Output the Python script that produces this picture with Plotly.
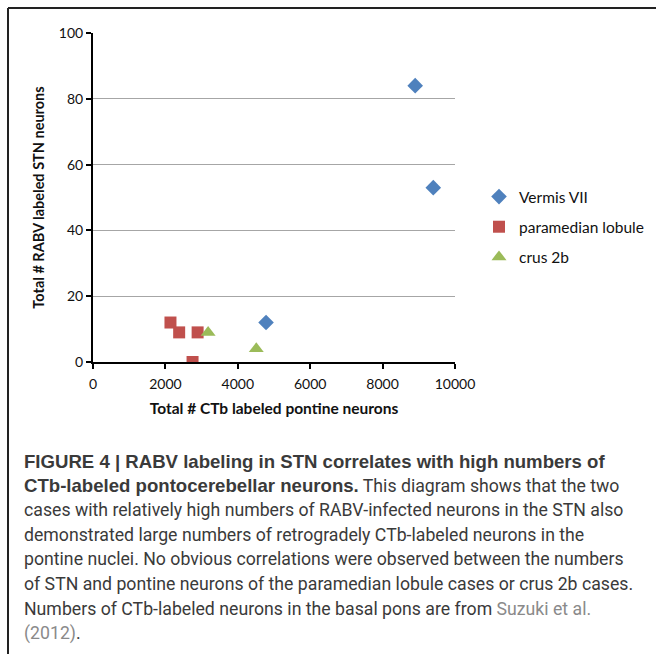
import plotly.graph_objects as go

# ---- data ----
series_names = ["Vermis VII", "paramedian lobule", "crus 2b"]
vermis_x = [8900, 9400, 4780]
vermis_y = [84, 53, 12]
paramedian_x = [2140, 2380, 2890, 2750]
paramedian_y = [12, 9, 9, 0]
crus_x = [3180, 4510]
crus_y = [9, 4]

x_ticks = [0, 2000, 4000, 6000, 8000, 10000]
x_tick_labels = ["0", "2000", "4000", "6000", "8000", "10000"]
y_ticks = [0, 20, 40, 60, 80, 100]

x_title = "Total # CTb labeled pontine neurons"
y_title = "Total # RABV labeled STN neurons"

BOLD = "<span style='font-family:Liberation Sans, Arial, sans-serif;font-size:18.6px'><b>{}</b></span>"
GREY = "<span style='color:#8a8a8a'>{}</span>"
caption_lines = [
    BOLD.format("FIGURE 4 | RABV labeling in STN correlates with high numbers of"),
    BOLD.format("CTb-labeled pontocerebellar neurons.") + " This diagram shows that the two",
    "cases with relatively high numbers of RABV-infected neurons in the STN also",
    "demonstrated large numbers of retrogradely CTb-labeled neurons in the",
    "pontine nuclei. No obvious correlations were observed between the numbers",
    "of STN and pontine neurons of the paramedian lobule cases or crus 2b cases.",
    "Numbers of CTb-labeled neurons in the basal pons are from " + GREY.format("Suzuki et al."),
    GREY.format("(2012)") + ".",
]

W, H = 656, 654
L, R, T, B = 93, 201, 33, 292
pw, ph = W - L - R, H - T - B

def px_x(px):
    return (px - L) / pw

def px_y(py):
    return (H - B - py) / ph

fig = go.Figure()
fig.add_trace(go.Scatter(x=vermis_x, y=vermis_y, mode="markers", name=series_names[0],
                         legendgroup="a",
                         marker=dict(symbol="diamond", size=12, color="#4F81BD")))
fig.add_trace(go.Scatter(x=paramedian_x, y=paramedian_y, mode="markers", name=series_names[1],
                         legendgroup="b",
                         marker=dict(symbol="square", size=12, color="#C0504D")))
fig.add_trace(go.Scatter(x=crus_x, y=crus_y, mode="markers", name=series_names[2],
                         legendgroup="c",
                         marker=dict(symbol="triangle-up", size=13, color="#9BBB59")))

FONT = "Lato, Open Sans, sans-serif"
axis_font = dict(family=FONT, size=14, color="#111")

fig.update_xaxes(range=[0, 10000], tickvals=x_ticks, ticktext=x_tick_labels,
                 showgrid=False, zeroline=False,
                 showline=True, linecolor="black", linewidth=2,
                 ticks="outside", ticklen=5, tickwidth=2, tickcolor="black",
                 tickfont=axis_font, ticklabelstandoff=3,
                 title=dict(text="<b>" + x_title + "</b>", font=dict(family=FONT, size=15.5, color="#111"),
                            standoff=12))
fig.update_yaxes(range=[0, 100], tickvals=y_ticks, showgrid=True, gridcolor="#a6a6a6", gridwidth=1,
                 zeroline=False, showline=True, linecolor="black", linewidth=2,
                 ticks="outside", ticklen=5, tickwidth=2, tickcolor="black",
                 tickfont=axis_font,
                 title=dict(text="<b>" + y_title + "</b>", font=dict(family=FONT, size=14.5, color="#111"),
                            standoff=11))

annotations = []
y0 = 461
step = 24.6
for i, line in enumerate(caption_lines):
    annotations.append(dict(
        x=px_x(22), y=px_y(y0 + i * step), xref="paper", yref="paper",
        xanchor="left", yanchor="middle", showarrow=False, align="left",
        text=line, font=dict(family="Roboto, Liberation Sans, sans-serif", size=17.7, color="#3a3a3a"),
    ))

shapes = [
    dict(type="line", xref="paper", yref="paper", x0=px_x(8), x1=px_x(660), y0=px_y(8), y1=px_y(8),
         line=dict(color="#222", width=2)),
    dict(type="line", xref="paper", yref="paper", x0=px_x(8), x1=px_x(8), y0=px_y(8), y1=px_y(660),
         line=dict(color="#222", width=2)),
]

fig.update_layout(
    width=W, height=H,
    margin=dict(l=L, r=R, t=T, b=B, pad=0, autoexpand=False),
    paper_bgcolor="white", plot_bgcolor="white",
    showlegend=True,
    legend=dict(x=px_x(479), y=px_y(180), xanchor="left", yanchor="top",
                font=dict(family=FONT, size=15.5, color="#111"),
                traceorder="grouped", tracegroupgap=7, itemwidth=30,
                bgcolor="rgba(0,0,0,0)"),
    annotations=annotations,
    shapes=shapes,
)

fig.write_html("out.html", config={"displayModeBar": False},
               post_script="document.body.style.margin='0';document.body.style.overflow='hidden';")
